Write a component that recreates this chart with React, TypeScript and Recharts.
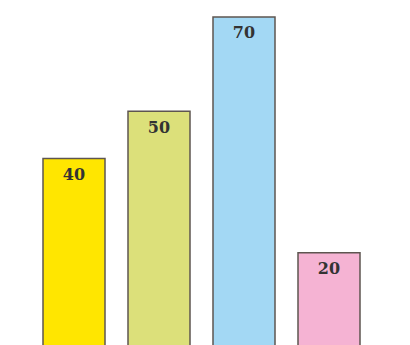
import React from "react";
import { BarChart, Bar, XAxis, YAxis, Cell, LabelList } from "recharts";

const categories = ["A", "B", "C", "D"];
const values = [40, 50, 70, 20];
const colors = ["#FFE600", "#DCE07A", "#A3D8F4", "#F5B3D3"];

const data = categories.map((c, i) => ({ name: c, value: values[i] }));

export default function App() {
  return (
    <div style={{ position: "absolute", left: 0, top: 0, width: 410, height: 345, background: "#fff" }}>
      <BarChart
        width={410}
        height={347}
        data={data}
        margin={{ top: 17, right: 39, left: 31, bottom: 0 }}
        barSize={62}
      >
        <XAxis dataKey="name" hide />
        <YAxis hide domain={[0, 70]} />
        <Bar dataKey="value" stroke="#5E5550" strokeWidth={1.5} isAnimationActive={false}>
          {data.map((d, i) => (
            <Cell key={d.name} fill={colors[i]} />
          ))}
          <LabelList
            dataKey="value"
            position="insideTop"
            offset={10}
            fill="#333333"
            style={{ fontFamily: "'DejaVu Serif', serif", fontSize: 16, fontWeight: "bold" }}
          />
        </Bar>
      </BarChart>
    </div>
  );
}
